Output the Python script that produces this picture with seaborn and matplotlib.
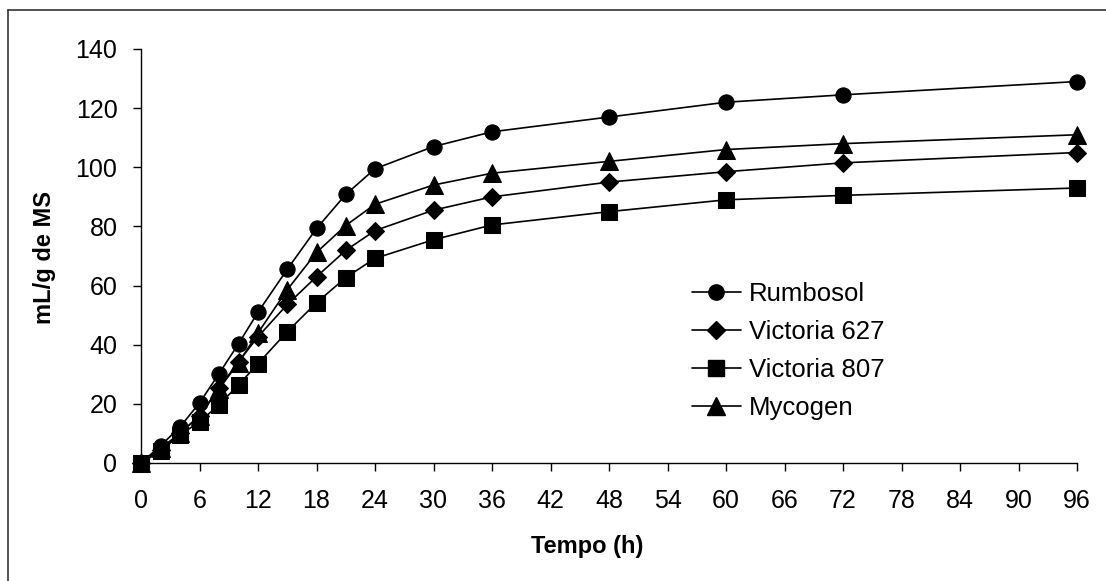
import matplotlib
matplotlib.use("Agg")
import matplotlib.pyplot as plt
import seaborn as sns
import pandas as pd
from matplotlib.lines import Line2D

hours = [0, 2, 4, 6, 8, 10, 12, 15, 18, 21, 24, 30, 36, 48, 60, 72, 96]
rumbosol = [0, 5.8, 12.2, 20.3, 30.2, 40.3, 51, 65.5, 79.3, 90.8, 99.5, 107, 112, 117, 122, 124.5, 129]
victoria627 = [0, 4.5, 10, 16, 25.4, 34.2, 42.7, 53.6, 63, 71.9, 78.6, 85.5, 90, 95, 98.5, 101.5, 105]
victoria807 = [0, 4, 9.5, 13.9, 19.7, 26.4, 33.6, 44.4, 54.2, 62.7, 69.2, 75.5, 80.5, 85, 89, 90.5, 93]
mycogen = [0, 5, 10, 16, 25, 33.9, 44, 58.6, 71.2, 80.3, 87.5, 94, 98, 102, 106, 108, 111]

series_names = ["Rumbosol", "Victoria 627", "Victoria 807", "Mycogen"]
series_values = [rumbosol, victoria627, victoria807, mycogen]
xticks = list(range(0, 97, 6))
yticks = list(range(0, 141, 20))

sns.set_theme(style="white")
plt.rcParams['font.family'] = ['Liberation Sans', 'DejaVu Sans']
plt.rcParams['text.color'] = 'black'
plt.rcParams['axes.labelcolor'] = 'black'
plt.rcParams['xtick.color'] = 'black'
plt.rcParams['ytick.color'] = 'black'

markers = {"Rumbosol": "o", "Victoria 627": "D", "Victoria 807": "s", "Mycogen": "^"}
msizes = {"Rumbosol": 11, "Victoria 627": 9.2, "Victoria 807": 11.3, "Mycogen": 12.5}

fig = plt.figure(figsize=(11.06, 5.81), dpi=100)
W, H = 1106, 581
ax = fig.add_axes([141 / W, 1 - 463 / H, (1077 - 141) / W, (463 - 49) / H])

# outer border (only top and left visible in the crop)
fig.add_artist(Line2D([8 / W, 1.0], [1 - 10 / H, 1 - 10 / H], transform=fig.transFigure, color="#333333", lw=1.2))
fig.add_artist(Line2D([8 / W, 8 / W], [1 - 10 / H, 0], transform=fig.transFigure, color="#333333", lw=1.2))

handles = []
for name, vals in zip(series_names, series_values):
    df = pd.DataFrame({"t": hours, "v": vals})
    sns.lineplot(data=df, x="t", y="v", ax=ax, color="black", linewidth=1.2,
                 marker=markers[name], markersize=msizes[name], markeredgecolor="black",
                 markerfacecolor="black", clip_on=False, legend=False)
    handles.append(Line2D([], [], color="black", lw=1.2, marker=markers[name],
                          markersize=msizes[name], markerfacecolor="black", markeredgecolor="black"))

ax.set_xlim(0, 96)
ax.set_ylim(0, 140)
ax.set_xticks(xticks)
ax.set_yticks(yticks)
ax.tick_params(axis="both", direction="out", length=6, width=1, color="black",
               labelsize=18, labelcolor="black", bottom=True, left=True)
ax.tick_params(axis="x", pad=13)
ax.tick_params(axis="y", pad=11)
for s in ["top", "right"]:
    ax.spines[s].set_visible(False)
for s in ["left", "bottom"]:
    ax.spines[s].set_color("black")
    ax.spines[s].set_linewidth(1)
ax.set_xlabel("Tempo (h)", fontsize=17, fontweight="bold", color="black")
ax.set_ylabel("mL/g de MS", fontsize=17, fontweight="bold", color="black")
ax.xaxis.label.set_va("center")
ax.yaxis.label.set_va("center")
ax.xaxis.set_label_coords((587 - 141) / 936, -(546 - 463) / 414)
ax.yaxis.set_label_coords((45 - 141) / 936, (463 - 257) / 414)
ax.grid(False)

leg = ax.legend(handles, series_names, loc="upper left",
                bbox_to_anchor=(692 / W, 1 - 282 / H), bbox_transform=fig.transFigure,
                frameon=False, fontsize=18.5, handlelength=1.9, handletextpad=0.3,
                labelspacing=0.55, borderpad=0, borderaxespad=0)
for t in leg.get_texts():
    t.set_color("black")

fig.savefig("out.png", dpi=100)
